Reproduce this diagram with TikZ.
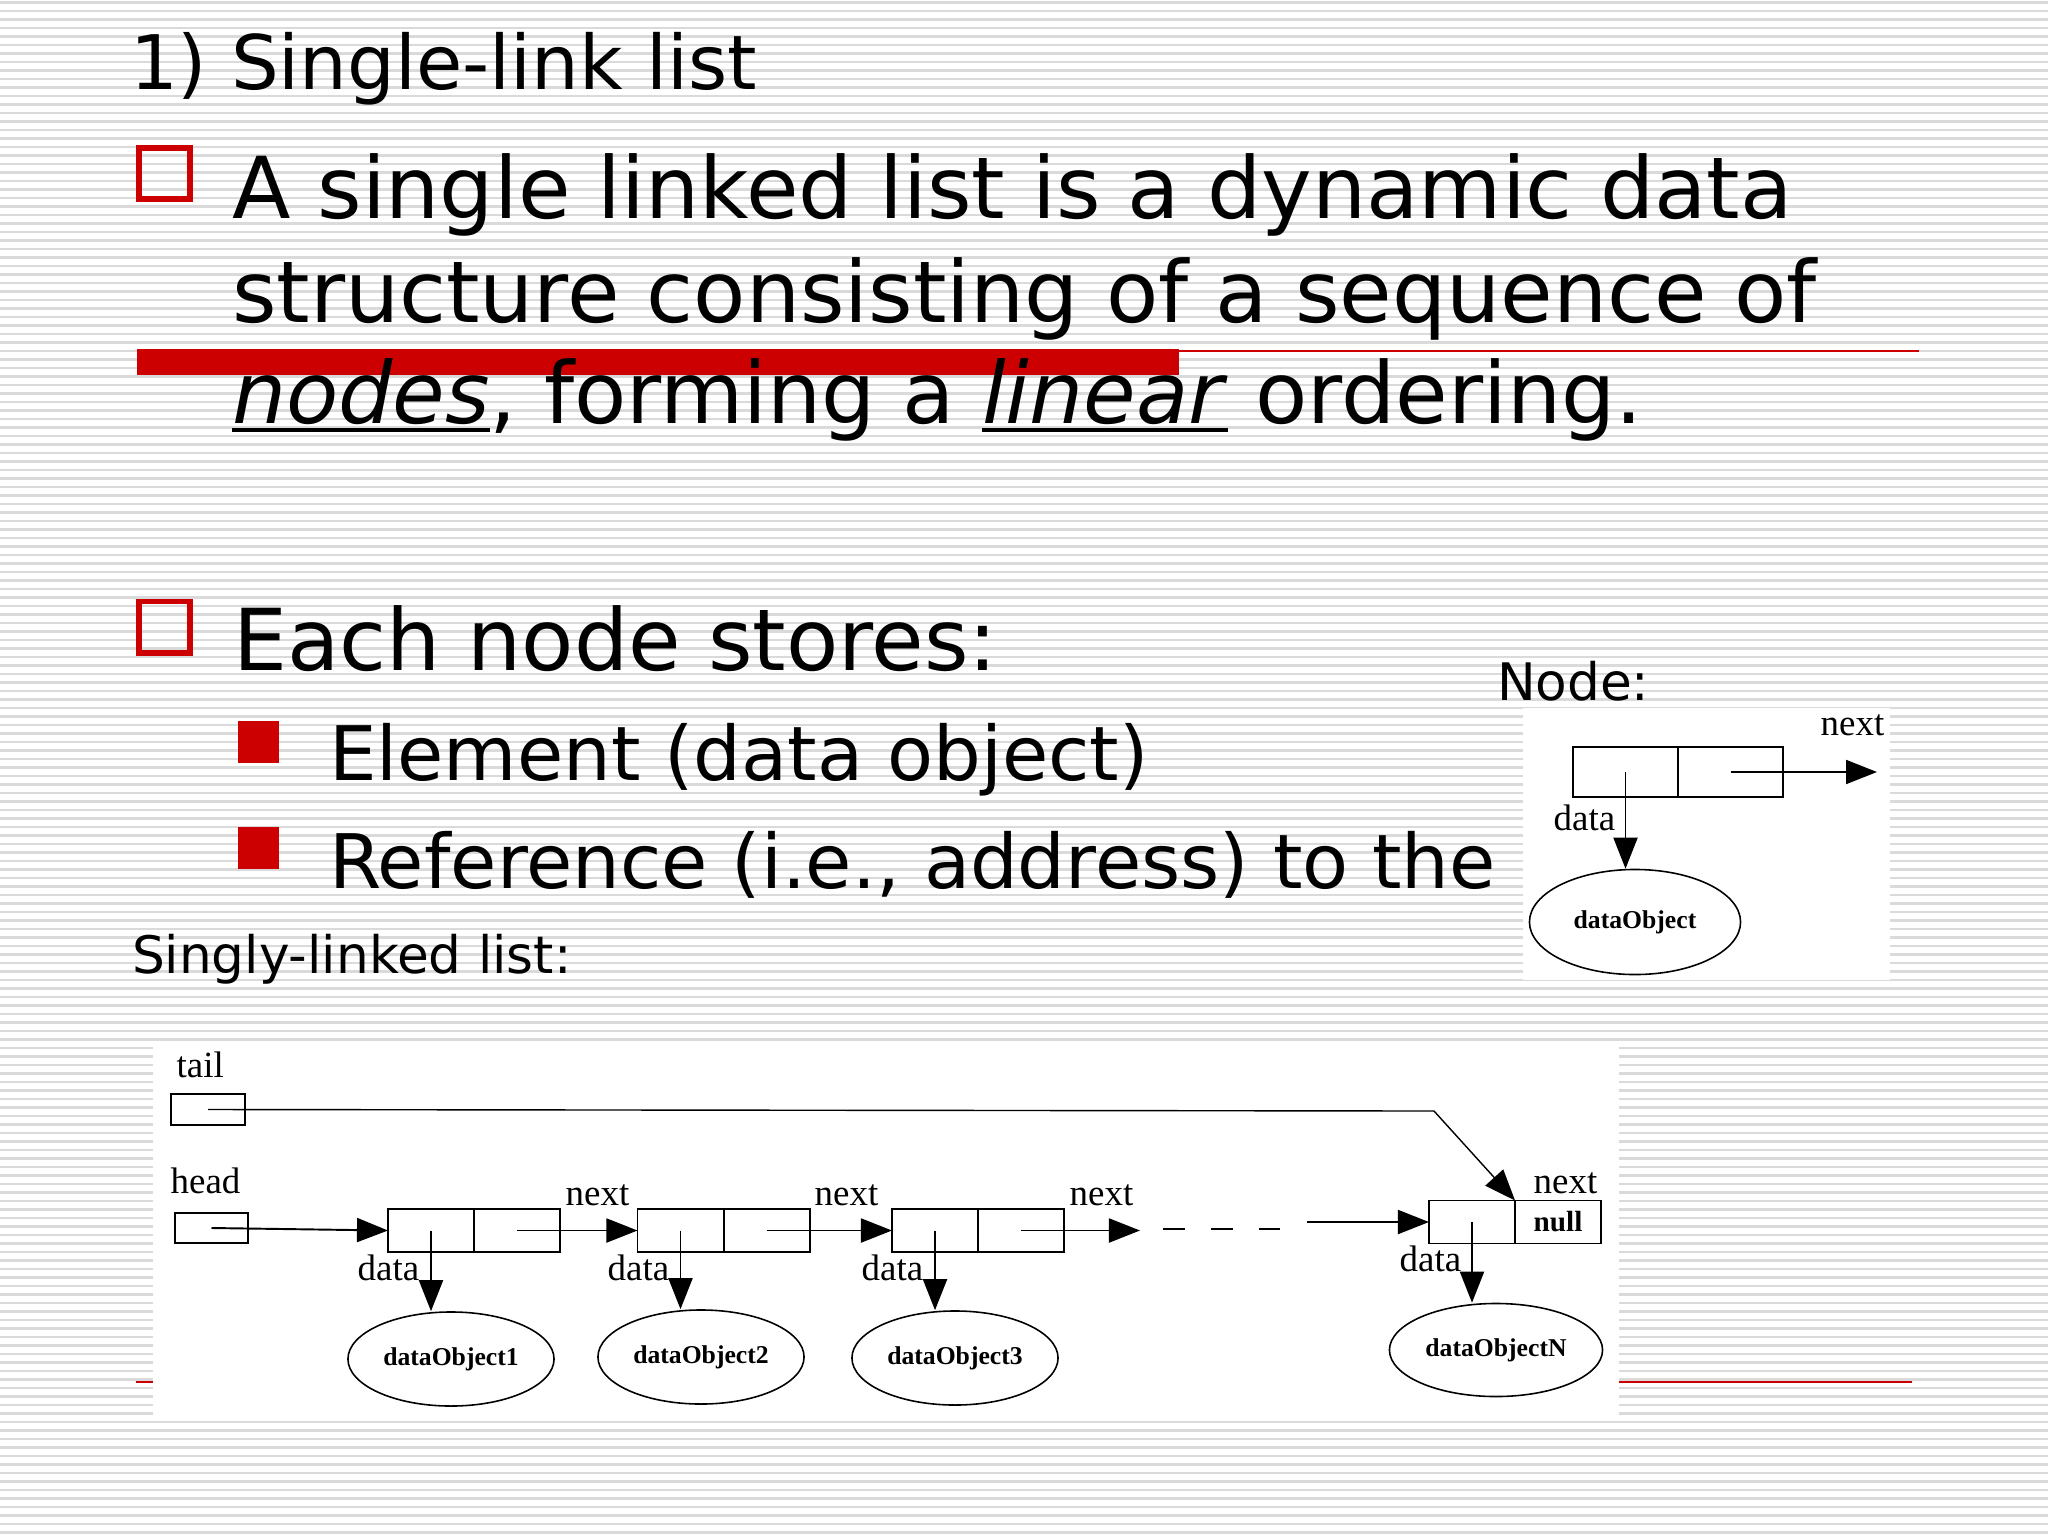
\documentclass[tikz,border=0pt]{standalone}
\usepackage{fontspec}
\setmainfont{DejaVu Sans}
\newfontfamily\figfont{Liberation Serif}
\usetikzlibrary{positioning,arrows.meta,shapes.geometric}

\definecolor{slidered}{RGB}{204,0,0}
\definecolor{stripegray}{RGB}{218,218,218}

\newsavebox\ulbox
\newcommand{\ulit}[1]{\sbox\ulbox{\textit{#1}}\rlap{\rule[-2.6pt]{\wd\ulbox}{1.1pt}}\usebox\ulbox}

\tikzset{
    stripe/.style={draw=stripegray, line width=0.7pt},
    txt/.style={anchor=base west, inner sep=0pt, outer sep=0pt},
    hollowbox/.style={draw=slidered, line width=1.7pt, minimum size=0.51cm, inner sep=0pt},
    fullbox/.style={fill=slidered, minimum width=0.41cm, minimum height=0.42cm, inner sep=0pt},
    cell/.style={draw, line width=0.55pt, minimum width=0.86cm, minimum height=0.43cm, inner sep=0pt, outer sep=0pt},
    bigcell/.style={cell, minimum width=1.05cm, minimum height=0.5cm},
    obj/.style={draw, ellipse, line width=0.45pt, minimum width=2.06cm, minimum height=0.94cm, inner sep=0pt,
        font=\figfont\bfseries\fontsize{7.3}{8}\selectfont},
    lbl/.style={anchor=base west, inner sep=0pt, font=\figfont\fontsize{10.5}{12}\selectfont},
    ptr/.style={-{Triangle[length=0.31cm,width=0.24cm]}, line width=0.55pt},
}
\newcommand{\bigsize}{\fontsize{24.3}{30}\selectfont}
\newcommand{\midsize}{\fontsize{21.4}{26}\selectfont}
\newcommand{\smallsize}{\fontsize{14.7}{17}\selectfont}

\begin{document}
\begin{tikzpicture}[x=0.01cm, y=-0.01cm]
    \useasboundingbox (0,0) rectangle (2048,1536);
    \fill[white] (0,0) rectangle (2048,1536);
    \foreach \y in {2.5,11,...,1536}
        \draw[stripe] (0,\y) -- (2048,\y);

    % red rules
    \draw[slidered, line width=0.7pt] (137,351) -- (1919,351);
    \fill[slidered] (137,349) rectangle (1179,375);
    \draw[slidered, line width=0.4pt] (136,1382) -- (1912,1382);

    % slide text
    \node[txt, font=\fontsize{21.4}{26}\selectfont] (title) at (130,89) {1) Single-link list};
    \node[hollowbox] (b1) at (164.5,173.5) {};
    \node[txt, font=\bigsize] (l1) at (232,218) {A single linked list is a dynamic data};
    \node[txt, font=\bigsize] (l2) at (232,322) {structure consisting of a sequence of};
    \node[txt, font=\bigsize] (l3) at (232,423) {\ulit{nodes}, forming a \ulit{linear} ordering.};
    \node[hollowbox] (b2) at (164.5,627) {};
    \node[txt, font=\bigsize] (l4) at (233,670) {Each node stores:};
    \node[fullbox] (s1) at (258.5,742) {};
    \node[txt, font=\midsize] (e1) at (329,780) {Element (data object)};
    \node[fullbox] (s2) at (258.5,848) {};
    \node[txt, font=\midsize] (e2) at (329,888) {Reference (i.e., address) to the};
    \node[txt, font=\smallsize] (sl) at (132,973) {Singly-linked list:};
    \node[txt, font=\smallsize] (nd) at (1497,700) {Node:};

    % node picture
    \fill[white] (1523,708) rectangle (1890,980);
    \node[bigcell] (kd) at (1625.5,772) {};
    \node[bigcell, right=0pt of kd] (kp) {};
    \node[obj, minimum width=2.11cm, minimum height=1.05cm] (ko) at (1635,922) {dataObject};
    \coordinate (knext) at (1877,772);
    \draw[ptr] (kd.center) -- (kd.center |- ko.north);
    \draw[ptr] (kp.center) -- (knext);
    \node[lbl] (kn) at (1820,735) {next};
    \node[lbl] (kl) at (1553,830) {data};

    % list picture
    \fill[white] (153,1043) rectangle (1619,1419);
    \node[lbl] (tl) at (176,1077) {tail};
    \node[cell, minimum width=0.74cm, minimum height=0.31cm] (tail) at (208,1109.5) {};
    \node[lbl] (hl) at (170,1193) {head};
    \node[cell, minimum width=0.73cm, minimum height=0.30cm] (head) at (211.5,1228) {};

    \node[cell] (n1d) at (431,1230.5) {};
    \node[cell, right=0pt of n1d] (n1p) {};
    \node[cell] (n2d) at (680.5,1230.5) {};
    \node[cell, right=0pt of n2d] (n2p) {};
    \node[cell] (n3d) at (935,1230.5) {};
    \node[cell, right=0pt of n3d] (n3p) {};
    \node[cell] (nNd) at (1472,1222) {};
    \node[cell, right=0pt of nNd, font=\figfont\bfseries\fontsize{8.3}{9}\selectfont] (nNp) {null};

    \node[obj] (o1) at (451,1359) {dataObject1};
    \node[obj] (o2) at (701,1357) {dataObject2};
    \node[obj] (o3) at (955,1358) {dataObject3};
    \node[obj, minimum width=2.13cm, minimum height=0.93cm] (oN) at (1496,1350) {dataObjectN};

    \foreach \n in {1,2,3,N}
        \draw[ptr] (n\n d.center) -- (n\n d.center |- o\n.north);

    \node[lbl] at (357,1280) {data};
    \node[lbl] at (607,1280) {data};
    \node[lbl] at (861,1280) {data};
    \node[lbl] at (1399,1271) {data};
    \node[lbl] at (565,1205) {next};
    \node[lbl] at (814,1205) {next};
    \node[lbl] at (1069,1205) {next};
    \node[lbl] at (1533,1193) {next};

    \coordinate (gap1) at (1140,1230.5);
    \coordinate (gap2) at (1163,1229);
    \coordinate (gap3) at (1280,1229);
    \coordinate (gap4) at (1307,1222);
    \coordinate (bend) at (1434,1111);

    \draw[ptr] (head.center) -- (n1d.west);
    \draw[ptr] (n1p.center) -- (n2d.west);
    \draw[ptr] (n2p.center) -- (n3d.west);
    \draw[ptr] (n3p.center) -- (gap1);
    \draw[line width=0.55pt, dash pattern=on 0.22cm off 0.26cm] (gap2) -- (gap3);
    \draw[ptr] (gap4) -- (nNd.west);
    \draw[ptr, line width=0.4pt] (tail.center) -- (bend) -- (nNp.north west);
\end{tikzpicture}
\end{document}
